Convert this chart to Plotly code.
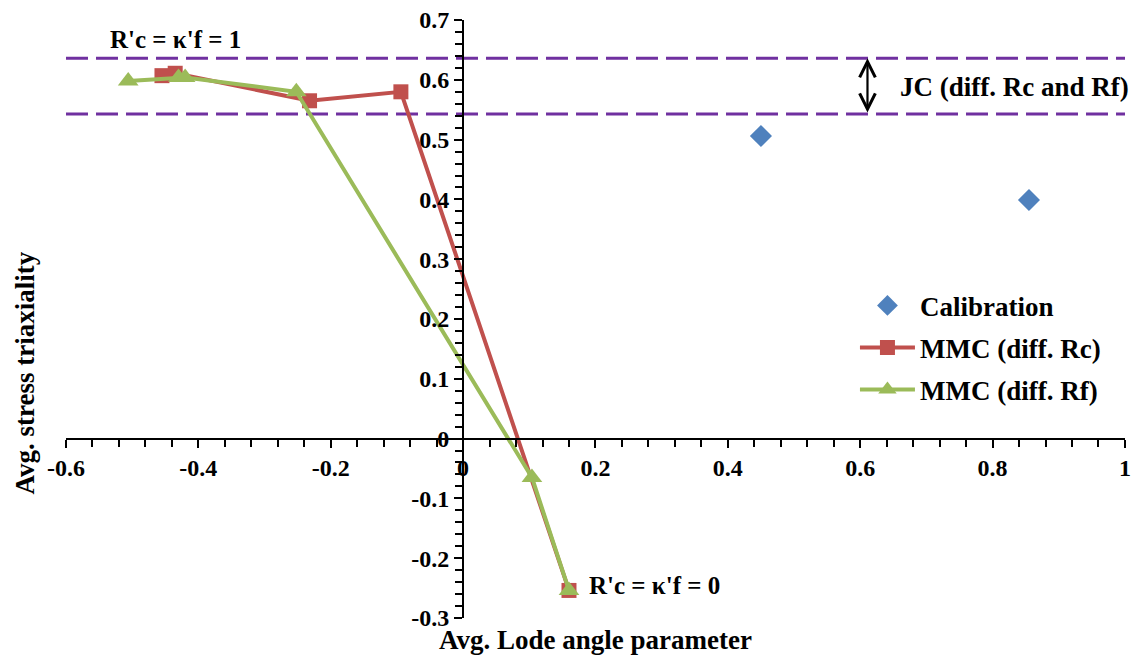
import plotly.graph_objects as go

# Data
calib_x = [0.450, 0.855]
calib_y = [0.506, 0.399]

rc_x = [-0.455, -0.435, -0.232, -0.094, 0.160]
rc_y = [0.607, 0.611, 0.565, 0.580, -0.254]

rf_x = [-0.506, -0.430, -0.420, -0.252, 0.104, 0.160]
rf_y = [0.598, 0.604, 0.604, 0.580, -0.065, -0.254]

jc_lines = [0.636, 0.543]

x_ticks = [-0.6, -0.4, -0.2, 0.0, 0.2, 0.4, 0.6, 0.8, 1.0]
x_ticktext = ["-0.6", "-0.4", "-0.2", "0", "0.2", "0.4", "0.6", "0.8", "1"]
y_ticks = [-0.3, -0.2, -0.1, 0.0, 0.1, 0.2, 0.3, 0.4, 0.5, 0.6, 0.7]
y_ticktext = ["-0.3", "-0.2", "-0.1", "0", "0.1", "0.2", "0.3", "0.4", "0.5", "0.6", "0.7"]

x_range = [-0.6, 1.0001]
y_range = [-0.3001, 0.7001]

FONT = "Liberation Serif"
RED = "#C0504D"
GREEN = "#9BBB59"
BLUE = "#4F81BD"
PURPLE = "#7030A0"

fig = go.Figure()

fig.add_trace(go.Scatter(
    x=calib_x, y=calib_y, mode="markers", name="Calibration", legendgroup="a",
    marker=dict(symbol="diamond", size=17, color=BLUE),
))
fig.add_trace(go.Scatter(
    x=rc_x, y=rc_y, mode="lines+markers", name="MMC (diff. Rc)", legendgroup="b",
    line=dict(color=RED, width=4),
    marker=dict(symbol="square", size=15, color=RED),
))
fig.add_trace(go.Scatter(
    x=rf_x, y=rf_y, mode="lines+markers", name="MMC (diff. Rf)", legendgroup="c",
    line=dict(color=GREEN, width=4),
    marker=dict(symbol="triangle-up", size=18, color=GREEN),
))

for yv in jc_lines:
    fig.add_shape(type="line", xref="paper", x0=0, x1=1, yref="y", y0=yv, y1=yv,
                  line=dict(color=PURPLE, width=3, dash="22px,8px"), layer="below")

bold = dict(family=FONT, color="black", weight="bold")

annotations = [
    dict(x=-0.434, y=0.667, xref="x", yref="y", text="R'c = κ'f = 1", showarrow=False,
         font=dict(size=25, **bold)),
    dict(x=0.289, y=-0.246, xref="x", yref="y", text="R'c = κ'f = 0", showarrow=False,
         font=dict(size=25, **bold)),
    dict(x=0.833, y=0.588, xref="x", yref="y", text="JC (diff. Rc and Rf)", showarrow=False,
         font=dict(size=27, **bold)),
    dict(x=0.611, y=jc_lines[0], ax=0.611, ay=jc_lines[1], xref="x", yref="y",
         axref="x", ayref="y", text="", showarrow=True, arrowhead=5, startarrowhead=5,
         arrowside="end+start", arrowwidth=2.2, arrowsize=1.4, arrowcolor="black",
         standoff=0, startstandoff=0),
    dict(x=0.5, y=-0.037, xref="paper", yref="paper", text="Avg. Lode angle parameter",
         showarrow=False, font=dict(size=27, **bold), yanchor="middle"),
    dict(x=-0.039, y=0.41, xref="paper", yref="paper", text="Avg. stress triaxiality",
         showarrow=False, font=dict(size=27, **bold), textangle=-90, xanchor="center",
         yanchor="middle"),
]

fig.update_layout(
    width=1135, height=651,
    margin=dict(l=58, r=18, t=12, b=41, autoexpand=False),
    paper_bgcolor="white", plot_bgcolor="white",
    showlegend=True,
    legend=dict(x=0.745, y=0.563, xanchor="left", yanchor="top",
                font=dict(size=27, **bold), bgcolor="rgba(0,0,0,0)",
                itemwidth=55, tracegroupgap=4, traceorder="grouped"),
    annotations=annotations,
    xaxis=dict(range=x_range, tickmode="array", tickvals=x_ticks, ticktext=x_ticktext,
               showgrid=False, zeroline=False, automargin=False, ticklabeloverflow="allow",
               anchor="free", position=0.3, showline=True, linecolor="black", linewidth=2,
               ticks="outside", ticklen=8, tickwidth=2, tickcolor="black",
               minor=dict(dtick=0.04, tick0=0, ticks="outside", ticklen=7, tickwidth=2,
                          tickcolor="black"),
               tickfont=dict(size=24, **bold)),
    yaxis=dict(range=y_range, tickmode="array", tickvals=y_ticks, ticktext=y_ticktext,
               showgrid=False, zeroline=False, automargin=False, ticklabeloverflow="allow",
               anchor="free", position=0.375, showline=True, linecolor="black", linewidth=2,
               ticks="outside", ticklen=8, tickwidth=2, tickcolor="black",
               minor=dict(dtick=0.02, tick0=0, ticks="outside", ticklen=7, tickwidth=2,
                          tickcolor="black"),
               tickfont=dict(size=24, **bold)),
)

fig.write_html("out.html")
